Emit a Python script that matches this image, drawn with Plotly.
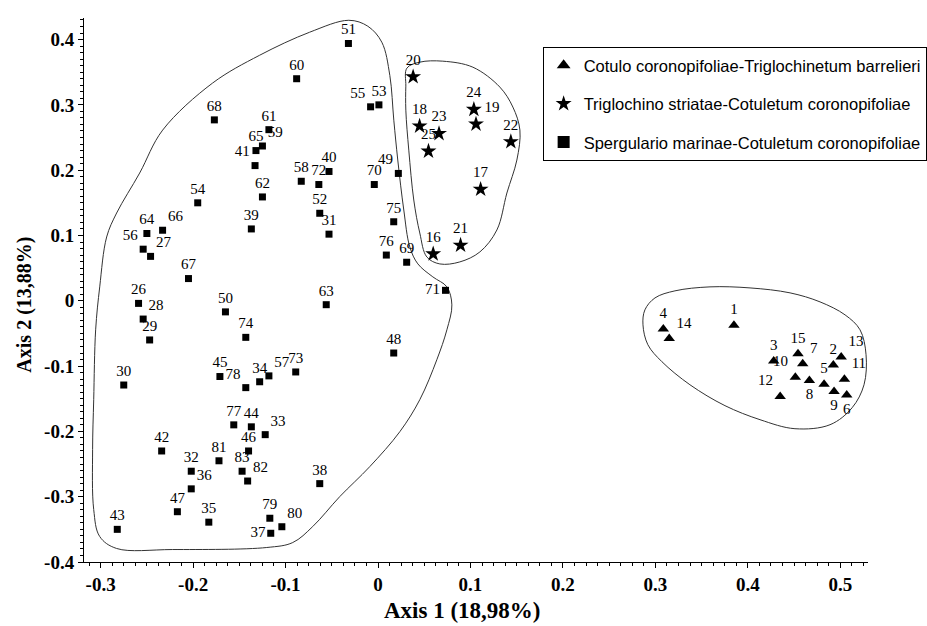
import plotly.graph_objects as go

# ---------------- data ----------------
tri_labels = ["1", "2", "3", "4", "5", "6", "7", "8", "9", "10", "11", "12", "13", "14", "15"]
tri_x = [0.385, 0.4925, 0.428, 0.3086, 0.4825, 0.507, 0.4594, 0.4666, 0.4933, 0.4514, 0.5045, 0.435, 0.501, 0.315, 0.4543]
tri_y = [-0.0374, -0.0985, -0.0924, -0.0434, -0.128, -0.1444, -0.0965, -0.122, -0.139, -0.117, -0.120, -0.1465, -0.086, -0.0578, -0.081]

star_labels = ["16", "17", "18", "19", "20", "21", "22", "23", "24", "25"]
star_x = [0.0597, 0.111, 0.045, 0.106, 0.038, 0.0893, 0.1437, 0.066, 0.1037, 0.0546]
star_y = [0.0717, 0.1707, 0.2675, 0.2705, 0.343, 0.085, 0.2435, 0.256, 0.293, 0.229]

sq_labels = ["51", "60", "55", "53", "68", "61", "65", "59", "41", "40",
             "58", "72", "70", "49", "62", "54", "52", "75", "39", "31",
             "64", "66", "56", "27", "67", "26", "28", "29", "50", "63",
             "74", "48", "76", "69", "71", "30", "45", "78", "34", "57",
             "73", "77", "44", "33", "46", "42", "81", "83", "82", "32",
             "36", "38", "47", "35", "43", "79", "80", "37"]
sq_x = [-0.032, -0.088, -0.008, 0.001, -0.177, -0.118, -0.132, -0.125, -0.133, -0.053,
        -0.083, -0.064, -0.004, 0.022, -0.125, -0.195, -0.063, 0.017, -0.137, -0.053,
        -0.250, -0.233, -0.254, -0.246, -0.205, -0.259, -0.254, -0.247, -0.165, -0.056,
        -0.143, 0.017, 0.009, 0.031, 0.073, -0.275, -0.171, -0.143, -0.128, -0.118,
        -0.089, -0.156, -0.137, -0.122, -0.140, -0.234, -0.172, -0.147, -0.141, -0.202,
        -0.202, -0.063, -0.217, -0.183, -0.282, -0.117, -0.104, -0.116]
sq_y = [0.394, 0.340, 0.297, 0.300, 0.277, 0.262, 0.230, 0.237, 0.207, 0.198,
        0.183, 0.178, 0.178, 0.195, 0.159, 0.150, 0.134, 0.121, 0.110, 0.102,
        0.103, 0.108, 0.079, 0.068, 0.034, -0.004, -0.028, -0.060, -0.017, -0.006,
        -0.056, -0.080, 0.070, 0.059, 0.016, -0.129, -0.116, -0.133, -0.124, -0.115,
        -0.109, -0.190, -0.193, -0.205, -0.230, -0.230, -0.245, -0.261, -0.276, -0.261,
        -0.288, -0.280, -0.323, -0.339, -0.350, -0.333, -0.346, -0.356]

series_names = ["Cotulo coronopifoliae-Triglochinetum barrelieri",
                "Triglochino striatae-Cotuletum coronopifoliae",
                "Spergulario marinae-Cotuletum coronopifoliae"]

x_title = "Axis 1 (18,98%)"
y_title = "Axis 2 (13,88%)"
x_tickvals = [-0.3, -0.2, -0.1, 0.0, 0.1, 0.2, 0.3, 0.4, 0.5]
x_ticktext = ["-0.3", "-0.2", "-0.1", "0", "0.1", "0.2", "0.3", "0.4", "0.5"]
y_tickvals = [-0.4, -0.3, -0.2, -0.1, 0.0, 0.1, 0.2, 0.3, 0.4]
y_ticktext = ["-0.4", "-0.3", "-0.2", "-0.1", "0", "0.1", "0.2", "0.3", "0.4"]

# group outlines (closed curves)
left_hull_x = [-0.0316, -0.011, 0.0041, 0.0128, 0.0171, 0.0214, 0.0279, 0.0344, 0.0431, 0.0593,
               0.0745, 0.0799, 0.0745, 0.0636, 0.0452, 0.0236, -0.0089, -0.0413, -0.0706, -0.0922,
               -0.1203, -0.2221, -0.2827, -0.301, -0.3075, -0.3087, -0.3075, -0.3054, -0.301, -0.2935,
               -0.2827, -0.2578, -0.2329, -0.179, -0.128, -0.074]
left_hull_y = [0.4295, 0.4204, 0.396, 0.345, 0.2765, 0.2155, 0.139, 0.0825, 0.0565, 0.0366,
               0.0213, -0.0063, -0.0445, -0.0904, -0.1515, -0.2005, -0.254, -0.2998, -0.3457, -0.3702,
               -0.3778, -0.3809, -0.3793, -0.361, -0.3197, -0.228, -0.1515, -0.0445, 0.0213, 0.0977,
               0.1344, 0.1956, 0.2614, 0.3333, 0.376, 0.4112]
star_hull_x = [0.0301, 0.0312, 0.0452, 0.0701, 0.1026, 0.1318, 0.1459, 0.1535, 0.1502, 0.1394,
               0.1286, 0.1102, 0.0885, 0.0669, 0.0528, 0.0452, 0.0387, 0.0333, 0.0301]
star_hull_y = [0.3287, 0.3562, 0.3654, 0.3669, 0.3577, 0.3272, 0.2966, 0.2614, 0.2155, 0.165,
               0.1084, 0.0748, 0.0595, 0.0564, 0.0671, 0.1038, 0.1543, 0.2307, 0.2919]
tri_hull_x = [0.2866, 0.2887, 0.2996, 0.3212, 0.3591, 0.4024, 0.4457, 0.4781, 0.5052, 0.5214,
              0.5279, 0.5257, 0.5128, 0.4889, 0.451, 0.4132, 0.3753, 0.3374, 0.3071, 0.2919]
tri_hull_y = [-0.0369, -0.0139, 0.0044, 0.0152, 0.0213, 0.0197, 0.0121, -0.0017, -0.0216, -0.0445,
              -0.0827, -0.1286, -0.1638, -0.1898, -0.1959, -0.1821, -0.1606, -0.1286, -0.0933, -0.0673]

# label placement (style, kept apart from the data)
label_pos = {
    "55": "top left", "41": "top left", "49": "top left", "56": "top left", "78": "top left",
    "59": "top right", "27": "top right", "28": "top right", "57": "top right", "33": "top right",
    "82": "top right", "36": "top right", "80": "top right", "66": "top right",
    "37": "middle left", "71": "middle left",
    "19": "top right",
    "14": "top right", "7": "top right", "13": "top right", "11": "top right",
    "10": "top left", "12": "top left",
    "8": "bottom center", "9": "bottom center", "6": "bottom center",
}


def positions(labels):
    return [label_pos.get(l, "top center") for l in labels]


def closed(seq):
    return list(seq) + [seq[0]]


SERIF = "Liberation Serif, Times New Roman, serif"
LABEL_FONT = dict(family=SERIF, size=15, color="black")

fig = go.Figure()

for hx, hy in [(left_hull_x, left_hull_y), (star_hull_x, star_hull_y), (tri_hull_x, tri_hull_y)]:
    fig.add_trace(go.Scatter(x=closed(hx), y=closed(hy), mode="lines",
                             line=dict(color="#333333", width=1, shape="spline", smoothing=1.0),
                             showlegend=False, hoverinfo="skip"))

fig.add_trace(go.Scatter(x=tri_x, y=tri_y, text=tri_labels, mode="markers+text",
                         textposition=positions(tri_labels), textfont=LABEL_FONT,
                         marker=dict(symbol="triangle-up", size=10, color="black"),
                         name=series_names[0], legendgroup="a", cliponaxis=False))
fig.add_trace(go.Scatter(x=star_x, y=star_y, text=star_labels, mode="markers+text",
                         textposition=positions(star_labels), textfont=LABEL_FONT,
                         marker=dict(symbol="star", size=12, color="black"),
                         name=series_names[1], legendgroup="b", cliponaxis=False))
fig.add_trace(go.Scatter(x=sq_x, y=sq_y, text=sq_labels, mode="markers+text",
                         textposition=positions(sq_labels), textfont=LABEL_FONT,
                         marker=dict(symbol="square", size=7, color="black"),
                         name=series_names[2], legendgroup="c", cliponaxis=False))

TICK_FONT = dict(family=SERIF, size=19, color="black", weight="bold")

fig.update_layout(
    width=927, height=626,
    margin=dict(l=84, r=59, t=18, b=64, autoexpand=False),
    plot_bgcolor="white", paper_bgcolor="white",
    font=dict(family=SERIF, color="black"),
    showlegend=True,
    legend=dict(x=0.585, y=0.9467, xanchor="left", yanchor="top",
                bgcolor="white", bordercolor="black", borderwidth=1,
                font=dict(family="Liberation Sans, Arial, sans-serif", size=16.5, color="black"),
                tracegroupgap=14, traceorder="grouped", itemsizing="constant"),
    xaxis=dict(range=[-0.318, 0.53], showgrid=False, zeroline=False, automargin=False,
               showline=True, linecolor="black", linewidth=1,
               ticks="outside", ticklen=5, tickcolor="black",
               tickvals=x_tickvals, ticktext=x_ticktext, tickfont=TICK_FONT,
               minor=dict(ticks="outside", ticklen=3, dtick=0.0125, tick0=0, tickcolor="black", showgrid=False)),
    yaxis=dict(range=[-0.4, 0.433], showgrid=False, zeroline=False, automargin=False,
               showline=True, linecolor="black", linewidth=1,
               ticks="outside", ticklen=5, tickcolor="black",
               tickvals=y_tickvals, ticktext=y_ticktext, tickfont=TICK_FONT,
               minor=dict(ticks="outside", ticklen=3, dtick=0.01, tick0=0, tickcolor="black", showgrid=False)),
    annotations=[
        dict(text=x_title, xref="paper", yref="paper", x=0.4834, y=-0.089,
             xanchor="center", yanchor="middle", showarrow=False,
             font=dict(family=SERIF, size=23, color="black", weight="bold")),
        dict(text=y_title, xref="paper", yref="paper", x=-0.0753, y=0.473,
             xanchor="center", yanchor="middle", showarrow=False, textangle=-90,
             font=dict(family=SERIF, size=20, color="black", weight="bold")),
    ],
)

fig.write_html("out.html", post_script="document.body.style.margin='0px';",
               config={"displayModeBar": False})
